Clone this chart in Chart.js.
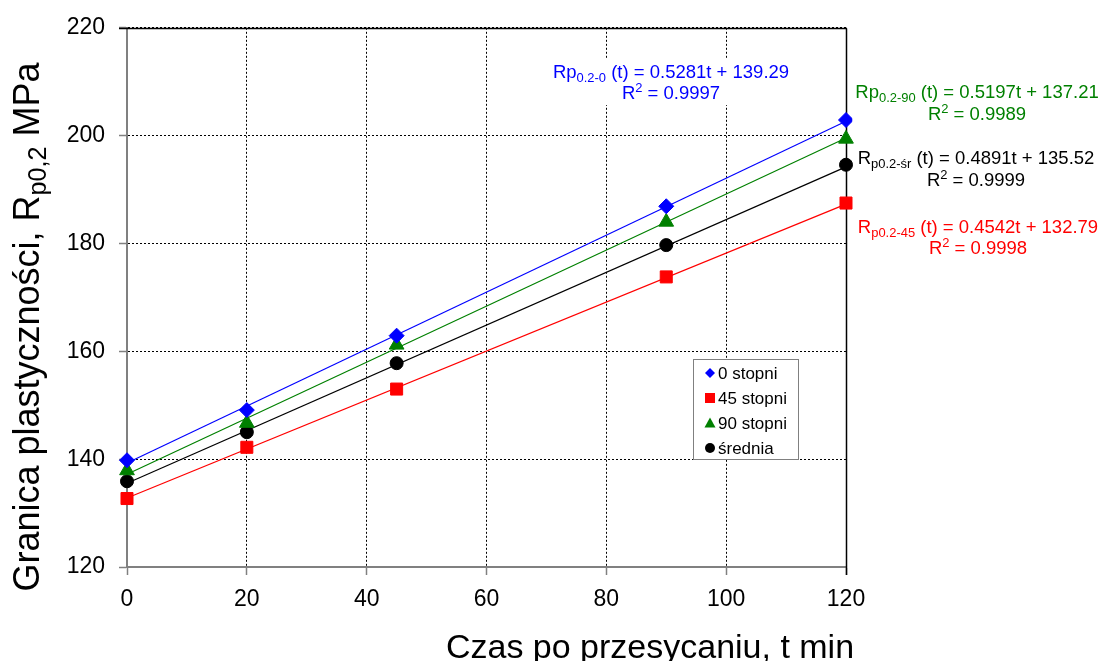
<!DOCTYPE html>
<html>
<head>
<meta charset="utf-8">
<script src="https://cdn.jsdelivr.net/npm/chart.js@4.4.1/dist/chart.umd.min.js"></script>
<style>
  html, body { margin: 0; padding: 0; background: #fff; }
  #wrap { width: 1101px; height: 661px; }
</style>
</head>
<body>
<div id="wrap"><canvas id="wykres" width="1101" height="661"></canvas></div>
<script>
// Czas po przesycaniu [min]
const czas = [0, 20, 45, 90, 120];
// Granica plastycznosci Rp0,2 [MPa] dla kolejnych kierunkow
const stopni0 = [139.8, 149.1, 162.9, 186.9, 202.9];
const stopni45 = [132.7, 142.2, 153.0, 173.8, 187.5];
const stopni90 = [137.9, 146.7, 161.2, 184.0, 199.4];
const srednia = [135.9, 145.0, 157.8, 179.7, 194.6];

const nazwy = ['0 stopni', '45 stopni', '90 stopni', 'średnia'];
const kolory = ['#0000ff', '#ff0000', '#008000', '#000000'];
const znaczniki = ['rectRot', 'rect', 'triangle', 'circle'];

// Linie trendu: Rp(t) = a*t + b
const nachylenie = [0.5281, 0.4542, 0.5197, 0.4891];
const wyrazWolny = [139.29, 132.79, 137.21, 135.52];
const wspR2 = [0.9997, 0.9998, 0.9989, 0.9999];
const przedrostek = ['Rp', 'R', 'Rp', 'R'];
const indeks = ['0.2-0', 'p0.2-45', '0.2-90', 'p0.2-śr'];

const osX = [0, 120, 20];   // min, max, krok
const osY = [120, 220, 20];

const FONT = '"Liberation Sans", Arial, sans-serif';

// polozenie opisow rownan (srodek tekstu, linie bazowe)
const opisy = [
  { x: 671, y1: 78, y2: 99 },
  { x: 978, y1: 233, y2: 254 },
  { x: 977, y1: 98, y2: 120 },
  { x: 976, y1: 164, y2: 186 }
];

const serie = [stopni0, stopni45, stopni90, srednia];

function punkty(wartosci) {
  return czas.map((t, i) => ({ x: t, y: wartosci[i] }));
}

const rozmiary = [7.5, 8.5, 8.5, 6.5];

const zbiory = serie.map((s, i) => ({
  label: nazwy[i],
  data: punkty(s),
  showLine: false,
  pointStyle: znaczniki[i],
  pointRadius: rozmiary[i],
  pointHoverRadius: rozmiary[i],
  backgroundColor: kolory[i],
  borderColor: kolory[i],
  borderWidth: 1,
  clip: false
}));

// trend od t = 0 do t = 120 wedlug podanych rownan
nachylenie.forEach((a, i) => {
  zbiory.push({
    label: 'trend ' + nazwy[i],
    data: [osX[0], osX[1]].map(t => ({ x: t, y: a * t + wyrazWolny[i] })),
    showLine: true,
    pointRadius: 0,
    borderColor: kolory[i],
    borderWidth: 1.2,
    clip: false
  });
});

// szerokosc tekstu zlozonego z czesci
function szerokosc(ctx, czesci, rozmiar) {
  const maly = rozmiar * 0.7;
  return czesci.map(([t, typ]) => {
    ctx.font = `${typ ? maly : rozmiar}px ${FONT}`;
    return ctx.measureText(t).width;
  });
}

// tekst z indeksem dolnym / gornym, wysrodkowany w x
function rysujTekst(ctx, czesci, x, y, rozmiar, kolor) {
  const maly = rozmiar * 0.7;
  const miary = szerokosc(ctx, czesci, rozmiar);
  let px = x - miary.reduce((a, b) => a + b, 0) / 2;
  ctx.fillStyle = kolor;
  ctx.textAlign = 'left';
  ctx.textBaseline = 'alphabetic';
  czesci.forEach(([t, typ], i) => {
    ctx.font = `${typ ? maly : rozmiar}px ${FONT}`;
    const dy = typ === 'sub' ? rozmiar * 0.2 : typ === 'sup' ? -rozmiar * 0.36 : 0;
    ctx.fillText(t, px, y + dy);
    px += miary[i];
  });
}

function rysujZnacznik(ctx, styl, x, y, r, kolor) {
  ctx.fillStyle = kolor;
  ctx.beginPath();
  if (styl === 'rectRot') {
    ctx.moveTo(x, y - r); ctx.lineTo(x + r, y); ctx.lineTo(x, y + r); ctx.lineTo(x - r, y);
  } else if (styl === 'rect') {
    ctx.rect(x - r, y - r, 2 * r, 2 * r);
  } else if (styl === 'triangle') {
    ctx.moveTo(x, y - r); ctx.lineTo(x + r, y + r * 0.8); ctx.lineTo(x - r, y + r * 0.8);
  } else {
    ctx.arc(x, y, r, 0, Math.PI * 2);
  }
  ctx.closePath();
  ctx.fill();
}

const dodatki = {
  id: 'dodatki',
  beforeDatasetsDraw(chart) {
    const { ctx, scales: { x, y } } = chart;
    // gorna krawedz i prawa krawedz obszaru wykresu - linie ciagle
    ctx.save();
    ctx.strokeStyle = '#000';
    ctx.lineWidth = 1.5;
    const yg = Math.round(y.getPixelForValue(osY[1])) + 0.5;
    const xp = Math.round(x.getPixelForValue(osX[1])) + 0.5;
    ctx.beginPath();
    ctx.moveTo(x.left - 8, yg); ctx.lineTo(xp, yg);
    ctx.moveTo(xp, yg); ctx.lineTo(xp, y.bottom + 8);
    ctx.stroke();
    ctx.restore();
  },
  afterDraw(chart) {
    const { ctx } = chart;
    ctx.save();

    // rownania linii trendu (na bialym tle, siatka pod spodem znika)
    opisy.forEach((o, i) => {
      const linia1 = [
        [przedrostek[i]], [indeks[i], 'sub'],
        [` (t) = ${nachylenie[i].toFixed(4)}t + ${wyrazWolny[i].toFixed(2)}`]
      ];
      const linia2 = [['R'], ['2', 'sup'], [` = ${wspR2[i].toFixed(4)}`]];
      const w = szerokosc(ctx, linia1, 18.5).reduce((a, b) => a + b, 0);
      ctx.fillStyle = '#fff';
      ctx.fillRect(o.x - w / 2 - 3, o.y1 - 20, w + 6, o.y2 - o.y1 + 26);
      rysujTekst(ctx, linia1, o.x, o.y1, 18.5, kolory[i]);
      rysujTekst(ctx, linia2, o.x, o.y2, 18.5, kolory[i]);
    });

    // legenda
    const lx = 693, ly = 359, lw = 105, lh = 100;
    ctx.fillStyle = '#fff';
    ctx.fillRect(lx, ly, lw, lh);
    ctx.strokeStyle = '#808080';
    ctx.lineWidth = 1;
    ctx.strokeRect(lx + 0.5, ly + 0.5, lw, lh);
    const rl = [5, 5, 5.5, 5];
    nazwy.forEach((n, i) => {
      const yy = ly + 14 + i * 25;
      rysujZnacznik(ctx, znaczniki[i], lx + 17, yy, rl[i], kolory[i]);
      ctx.fillStyle = '#000';
      ctx.font = `17px ${FONT}`;
      ctx.textAlign = 'left';
      ctx.textBaseline = 'middle';
      ctx.fillText(n, lx + 25, yy + 1);
    });

    // tytul osi X
    ctx.fillStyle = '#000';
    ctx.font = `34px ${FONT}`;
    ctx.textAlign = 'center';
    ctx.textBaseline = 'alphabetic';
    ctx.fillText('Czas po przesycaniu, t min', 650, 658);

    // tytul osi Y (obrocony)
    ctx.translate(39, 327);
    ctx.rotate(-Math.PI / 2);
    rysujTekst(ctx, [['Granica plastyczności, R'], ['p0,2', 'sub'], [' MPa']], 0, 0, 36, '#000');
    ctx.restore();
  }
};

const czcionkaTikow = { family: FONT, size: 23 };

new Chart(document.getElementById('wykres'), {
  type: 'scatter',
  data: { datasets: zbiory },
  options: {
    responsive: false,
    animation: false,
    layout: { padding: { left: 0, right: 255, top: 26, bottom: 0 } },
    plugins: {
      legend: { display: false },
      tooltip: { enabled: false }
    },
    scales: {
      x: {
        type: 'linear',
        min: osX[0], max: osX[1],
        ticks: { stepSize: osX[2], color: '#000', font: czcionkaTikow, padding: 11, maxRotation: 0 },
        grid: { color: '#000', lineWidth: 1, tickLength: 8, tickColor: '#808080', tickWidth: 1.5 },
        border: { color: '#808080', width: 2, dash: [2, 2] },
        afterFit(s) { s.height = 94; }
      },
      y: {
        type: 'linear',
        min: osY[0], max: osY[1],
        ticks: { stepSize: osY[2], color: '#000', font: czcionkaTikow, padding: 14 },
        grid: { color: '#000', lineWidth: 1, tickLength: 8, tickColor: '#808080', tickWidth: 1.5 },
        border: { color: '#808080', width: 2, dash: [2, 2] },
        afterFit(s) { s.width = 127; }
      }
    }
  },
  plugins: [dodatki]
});
</script>
</body>
</html>
